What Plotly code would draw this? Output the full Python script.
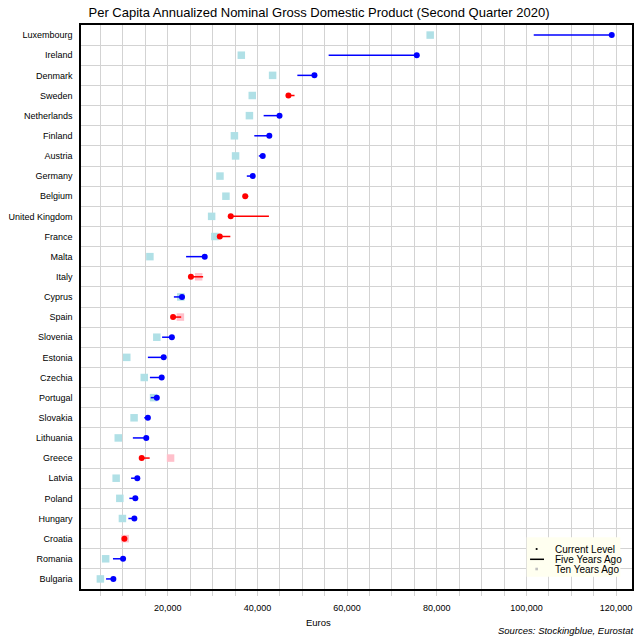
import plotly.graph_objects as go

# Paises (de cima para baixo) e valores em euros
countries = ["Luxembourg", "Ireland", "Denmark", "Sweden", "Netherlands", "Finland",
             "Austria", "Germany", "Belgium", "United Kingdom", "France", "Malta",
             "Italy", "Cyprus", "Spain", "Slovenia", "Estonia", "Czechia", "Portugal",
             "Slovakia", "Lithuania", "Greece", "Latvia", "Poland", "Hungary",
             "Croatia", "Romania", "Bulgaria"]
current = [119030, 75540, 52710, 46910, 44920, 42650, 41180, 38960, 37270, 34040,
           31600, 28240, 25160, 23170, 21180, 20910, 19090, 18640, 17550, 15560,
           15200, 14180, 13200, 12760, 12540, 10320, 10030, 7860]
five_years_ago = [101630, 55880, 48900, 48270, 41380, 39300, 40300, 37630, 37940, 42560,
                  33950, 24080, 27880, 21360, 22990, 18730, 15560, 16010, 16200, 14750,
                  12210, 15960, 11810, 11430, 11210, 10600, 7770, 6230]
ten_years_ago = [78530, 36400, 43380, 38840, 38210, 34860, 35120, 31640, 32970, 29780,
                 30510, 16010, 26890, 22900, 22810, 17550, 10850, 14750, 16830, 12480,
                 8950, 20620, 8480, 9300, 9880, 10480, 6140, 4960]

FONT = "Liberation Sans, Arial, sans-serif"

fig = go.Figure()

# Quadrados: dez anos atras (azul claro se cresceu, rosa se caiu)
sq_colors = ["powderblue" if c >= t else "pink" for c, t in zip(current, ten_years_ago)]
fig.add_trace(go.Scatter(x=ten_years_ago, y=countries, mode="markers",
                         marker=dict(symbol="square", size=7.5, color=sq_colors),
                         showlegend=False))

# Linhas: de cinco anos atras ate o nivel atual
for col, up in [("blue", True), ("red", False)]:
    xs, ys = [], []
    for name, c, f in zip(countries, current, five_years_ago):
        if (c >= f) == up:
            xs += [f, c, None]
            ys += [name, name, None]
    fig.add_trace(go.Scatter(x=xs, y=ys, mode="lines",
                             line=dict(color=col, width=1.5), showlegend=False))

# Pontos: nivel atual
dot_colors = ["blue" if c >= f else "red" for c, f in zip(current, five_years_ago)]
fig.add_trace(go.Scatter(x=current, y=countries, mode="markers",
                         marker=dict(size=6, color=dot_colors), showlegend=False))

fig.update_layout(
    width=640, height=640,
    margin=dict(l=81, r=6, t=25, b=51),
    paper_bgcolor="white", plot_bgcolor="white",
    font=dict(family=FONT, size=9, color="black"),
    title=dict(text="Per Capita Annualized Nominal Gross Domestic Product (Second Quarter 2020)",
               x=319 / 640, xref="container", xanchor="center",
               y=1 - 12.5 / 640, yref="container", yanchor="middle",
               font=dict(family=FONT, size=13, color="black")),
)

fig.update_xaxes(range=[640, 123550], tickvals=[20000, 40000, 60000, 80000, 100000, 120000],
                 tickformat=",d", showgrid=True, gridcolor="#d3d3d3", gridwidth=1,
                 ticks="outside", ticklen=5, tickcolor="#d3d3d3",
                 minor=dict(dtick=5000, tick0=0, showgrid=True, gridcolor="#d3d3d3",
                            ticks="outside", ticklen=5, tickcolor="#d3d3d3"),
                 showline=True, linecolor="black", linewidth=1.5, mirror=True,
                 zeroline=False, ticklabelstandoff=4)
fig.update_yaxes(type="category", categoryorder="array", categoryarray=countries,
                 range=[len(countries) - 0.5, -0.5], tickson="boundaries", ticks="",
                 showgrid=True, gridcolor="#d3d3d3", gridwidth=1,
                 showline=True, linecolor="black", linewidth=1.5, mirror=True,
                 ticklabelstandoff=5)


# posicoes em pixels da pagina -> fracoes da area do grafico
def px(xp):
    return (xp - 81) / 553


def py(yp):
    return (589 - yp) / 564


# Titulo do eixo x e fonte (centralizados na pagina como no original)
fig.add_annotation(text="Euros", xref="paper", yref="paper", x=px(319), y=py(622.7),
                   xanchor="center", yanchor="middle", showarrow=False, font=dict(size=9.5))
fig.add_annotation(text="<i>Sources: Stockingblue, Eurostat</i>", xref="paper", yref="paper",
                   x=px(638), y=py(630.7), xanchor="right", yanchor="middle",
                   showarrow=False, font=dict(size=9.5))

# Legenda desenhada a mao
fig.add_shape(type="rect", xref="paper", yref="paper", x0=px(528.3), x1=px(622.3),
              y0=py(576.7), y1=py(537.3), fillcolor="#fffff0", line=dict(width=0))
fig.add_shape(type="circle", xref="paper", yref="paper", x0=px(537.2), x1=px(539.4),
              y0=py(550.1), y1=py(547.9), fillcolor="black", line=dict(width=0))
fig.add_shape(type="line", xref="paper", yref="paper", x0=px(531.7), x1=px(545.7),
              y0=py(559.3), y1=py(559.3), line=dict(color="black", width=1.5))
fig.add_shape(type="rect", xref="paper", yref="paper", x0=px(537), x1=px(539.6),
              y0=py(570.3), y1=py(567.7), fillcolor="#bebebe", line=dict(width=0))
for label, yy in [("Current Level", 549), ("Five Years Ago", 559.3), ("Ten Years Ago", 569)]:
    fig.add_annotation(text=label, xref="paper", yref="paper", x=px(554.3), y=py(yy),
                       xanchor="left", yanchor="middle", showarrow=False,
                       font=dict(size=10))

# tira a margem padrao do body para o grafico comecar em (0, 0)
fig.write_html("out.html", config={"displayModeBar": False},
               post_script="document.body.style.margin = '0';")
